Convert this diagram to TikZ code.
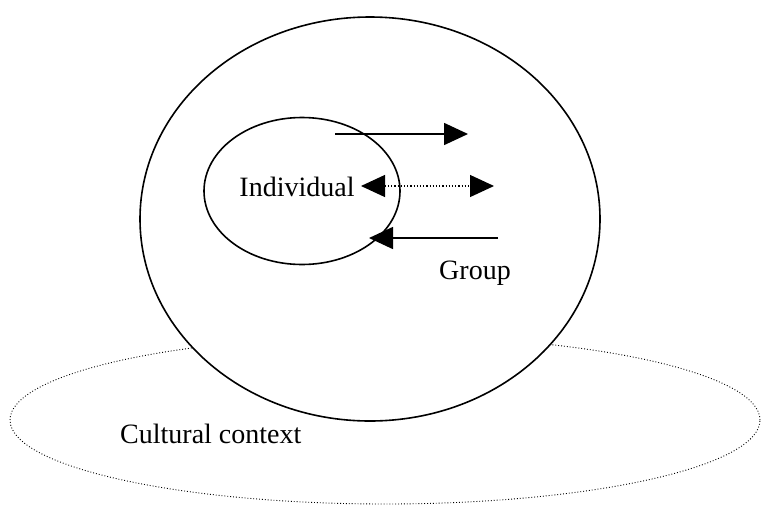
\documentclass[tikz,border=0pt]{standalone}
\usepackage{fontspec}
\setmainfont{Liberation Serif}
\usetikzlibrary{shapes.geometric,arrows.meta}
\begin{document}
\begin{tikzpicture}[x=1pt,y=-1pt,
  solidell/.style={ellipse, draw, line width=1.6pt, inner sep=0pt},
  dotell/.style={ellipse, draw, dotted, line width=0.9pt, inner sep=0pt},
  bigarrow/.style={line width=1.6pt, -{Triangle[length=24pt,width=22pt]}},
  lbl/.style={font=\fontsize{28}{32}\selectfont, inner sep=0pt}]
\useasboundingbox (0,0) rectangle (762,509);
\node[dotell, minimum width=750pt, minimum height=168pt] (culture) at (385,420) {};
\node[solidell, fill=white, minimum width=460pt, minimum height=404pt] (group) at (370,219) {};
\node[solidell, minimum width=196pt, minimum height=147pt] (indiv) at (302,191) {};
\node[lbl] (indivlbl) at (297,187) {Individual};
\node[lbl] (grouplbl) at (475,273) {Group};
\node[lbl, anchor=west] (culturelbl) at (120,434) {Cultural context};
\coordinate (a1s) at (335,134);
\coordinate (a1e) at (468,134);
\coordinate (a2l) at (361,186);
\coordinate (a2r) at (494,186);
\coordinate (a3s) at (498,238);
\coordinate (a3e) at (369,238);
\draw[bigarrow] (a1s) -- (a1e);
\draw[line width=1.2pt, dotted, {Triangle[length=24pt,width=22pt]}-{Triangle[length=24pt,width=22pt]}] (a2l) -- (a2r);
\draw[bigarrow] (a3s) -- (a3e);
\end{tikzpicture}
\end{document}
